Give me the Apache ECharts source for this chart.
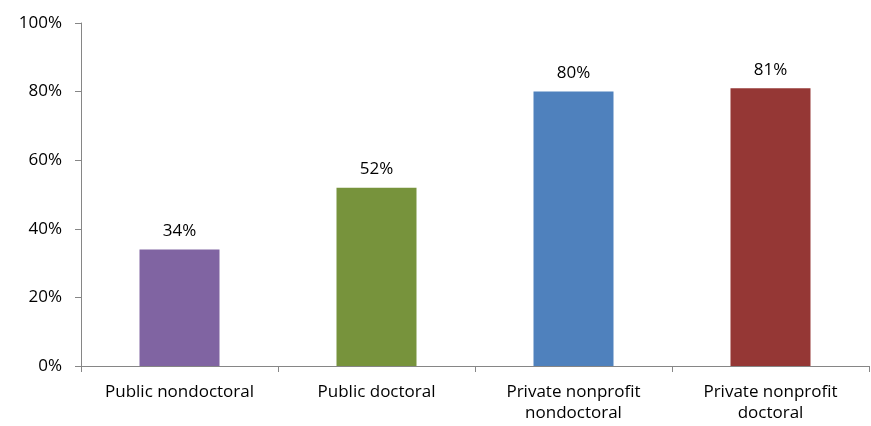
<!DOCTYPE html>
<html><head><meta charset="utf-8">
<script src="https://cdn.jsdelivr.net/npm/echarts@6/dist/echarts.min.js"></script>
<style>html,body{margin:0;padding:0;background:#fff}#c{width:871px;height:426px}</style>
</head><body><div id="c"></div>
<script>
const categories = ['Public nondoctoral', 'Public doctoral', 'Private nonprofit\nnondoctoral', 'Private nonprofit\ndoctoral'];
const values = [34, 52, 80, 81];
const colors = ['#8064A2', '#77933C', '#4F81BD', '#953735'];
const yTicks = [0, 20, 40, 60, 80, 100];

const chart = echarts.init(document.getElementById('c'));
const font = 'Open Sans, Noto Sans, sans-serif';
chart.setOption({
  animation: false,
  grid: { left: 81, right: 2, top: 23, bottom: 60, containLabel: false },
  xAxis: {
    type: 'category', data: categories,
    axisLine: { lineStyle: { color: '#868686', width: 1 } },
    axisTick: { show: true, length: 6, alignWithLabel: false, lineStyle: { color: '#868686' } },
    axisLabel: { color: '#000', fontFamily: font, fontSize: 17, margin: 16, lineHeight: 21, interval: 0 }
  },
  yAxis: {
    type: 'value', min: 0, max: 100, interval: 20,
    axisLine: { show: true, lineStyle: { color: '#868686', width: 1 } },
    axisTick: { show: true, length: 6, lineStyle: { color: '#868686' } },
    splitLine: { show: false },
    axisLabel: { color: '#000', fontFamily: font, fontSize: 17, margin: 19, formatter: v => v + '%' }
  },
  series: [{
    type: 'bar',
    barWidth: 80,
    data: values.map((v, i) => ({ value: v, itemStyle: { color: colors[i] } })),
    label: { show: true, position: 'top', distance: 10, color: '#000', fontFamily: font, fontSize: 17, formatter: p => p.value + '%' }
  }]
});
</script></body></html>
